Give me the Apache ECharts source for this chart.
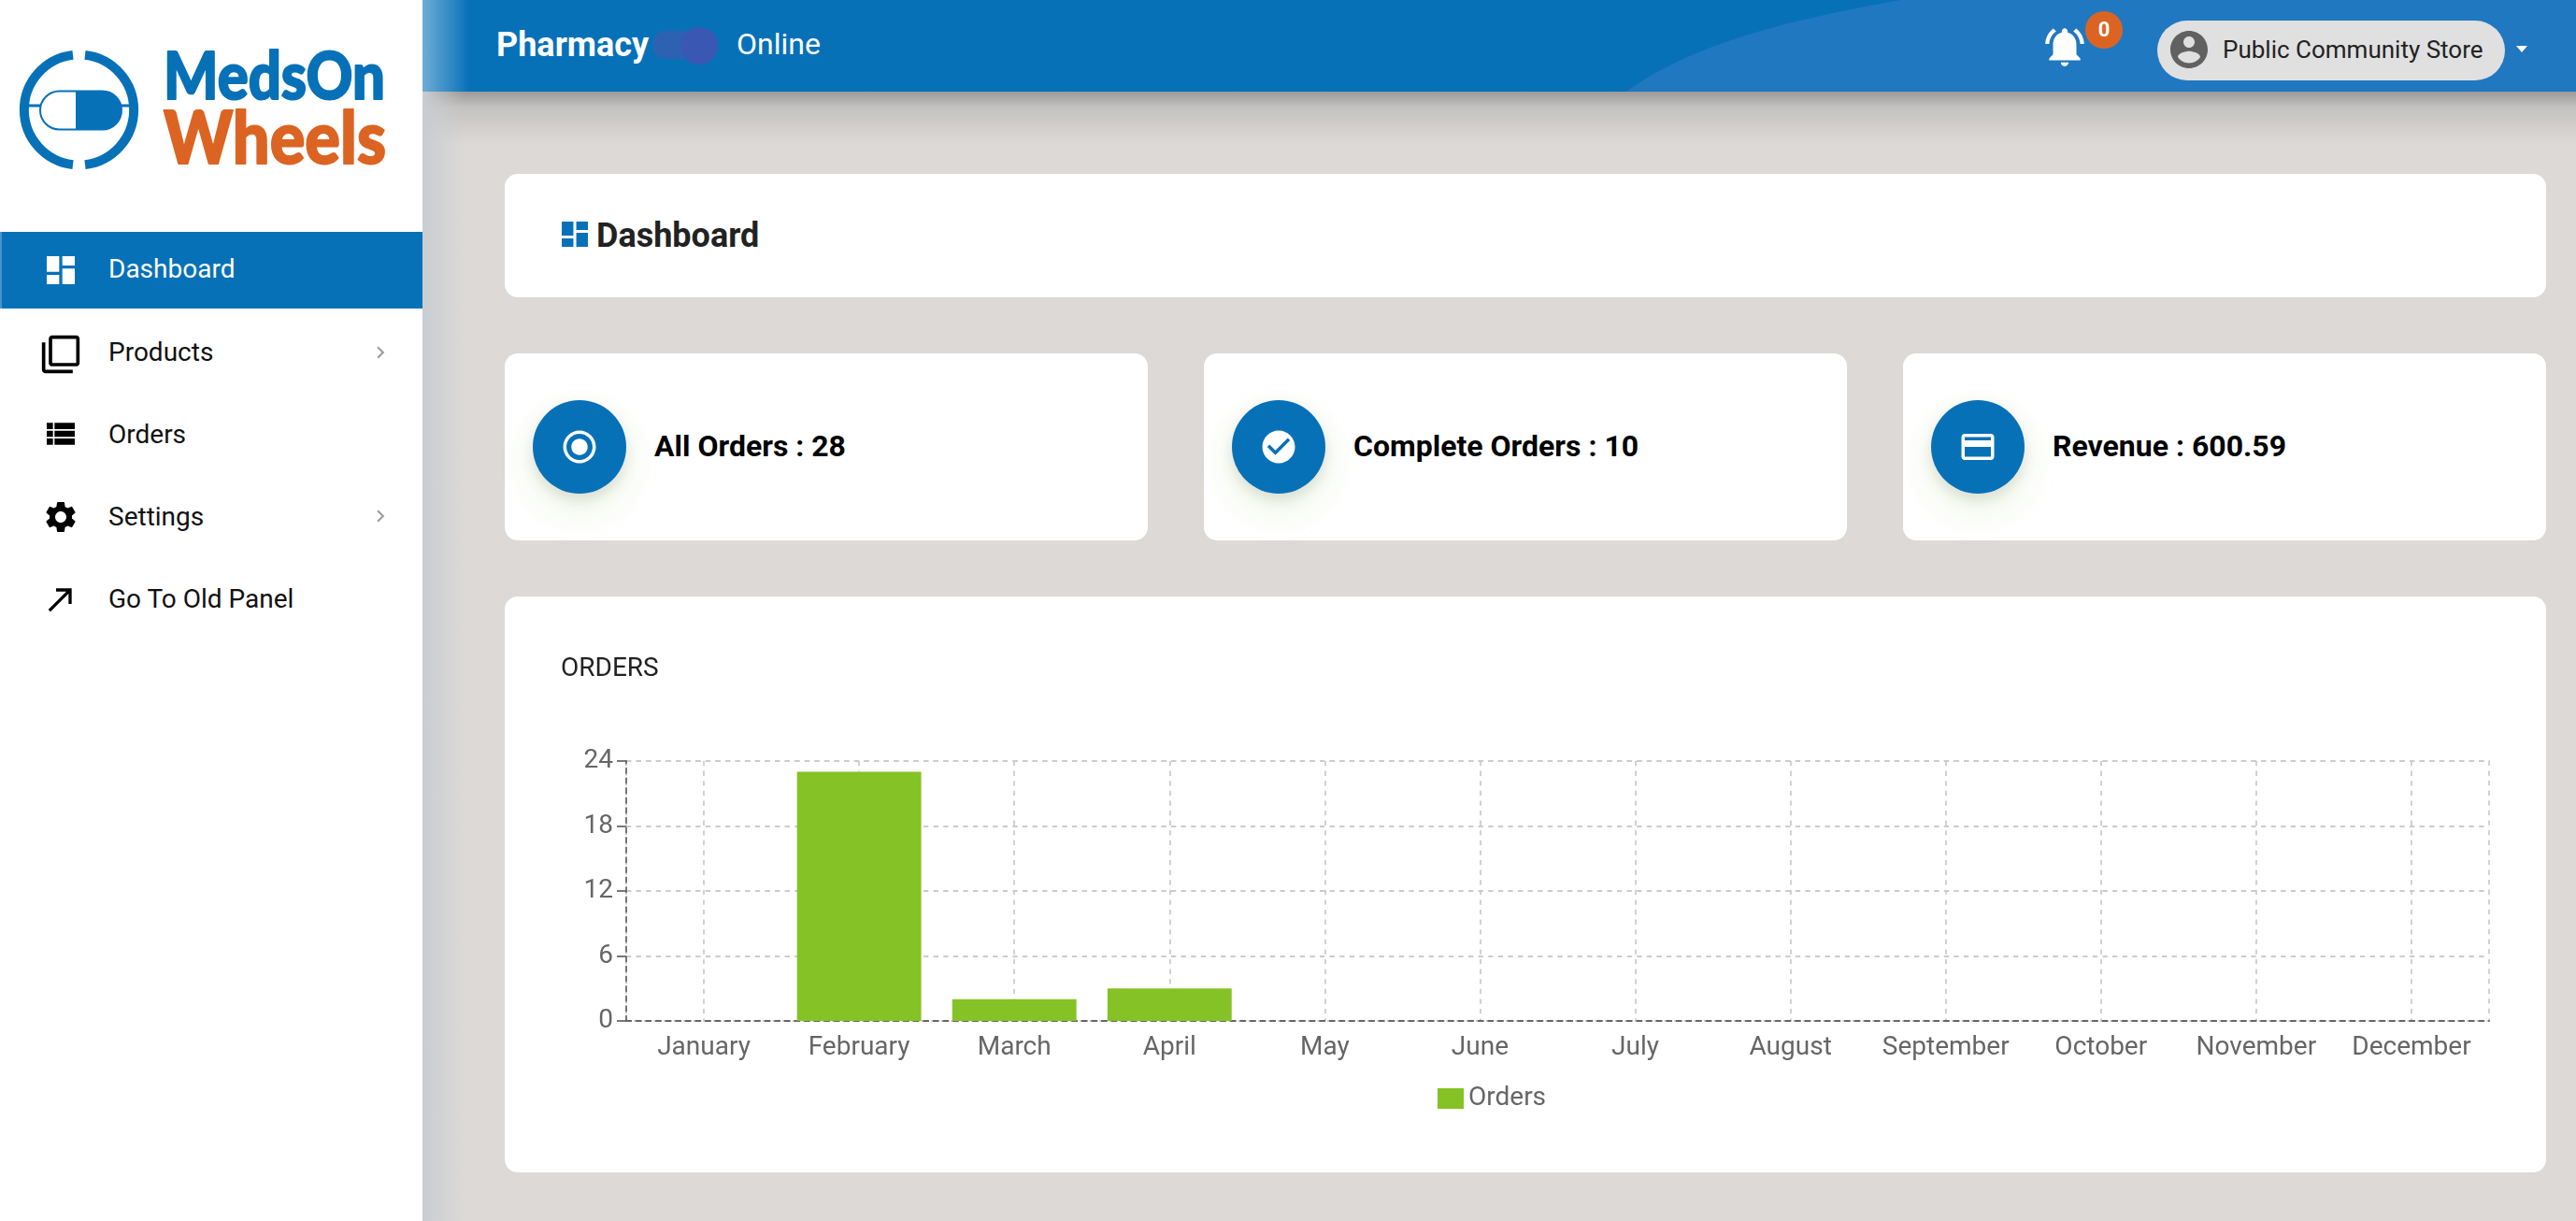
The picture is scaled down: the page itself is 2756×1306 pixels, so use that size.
<!DOCTYPE html>
<html>
<head>
    <meta charset="UTF-8">
    <script type="text/javascript" src="https://cdn.jsdelivr.net/npm/echarts@6/dist/echarts.min.js"></script>
    <style type="text/css">
        *{
            margin: 0;
            padding: 0;
            box-sizing: border-box;
        }
        body{
            width: 2756px;
            height: 1306px;
            position: relative;
            overflow: hidden;
            background: #dcd9d6;
            font-family: Roboto, sans-serif;
        }
        .abs{
            position: absolute;
        }
        .txt{
            position: absolute;
            white-space: nowrap;
            line-height: 1;
        }
        .card{
            position: absolute;
            background: #fff;
            border-radius: 14px;
        }
        .side{
            position: absolute;
            left: 0;
            top: 0;
            width: 452px;
            height: 1306px;
            background: #fff;
            z-index: 3;
        }
        .item{
            font-size: 28px;
            color: #111;
            left: 116px;
        }
        .round{
            position: absolute;
            top: 428px;
            width: 100px;
            height: 100px;
            border-radius: 50%;
            background: #0771b8;
            box-shadow: 0 6px 14px rgba(120,120,120,.2), 0 16px 38px rgba(130,190,60,.16);
        }
        .stat{
            font-size: 32px;
            font-weight: 700;
            color: #000;
            top: 461px;
        }
        #one{
            position: absolute;
            left: 540px;
            top: 638px;
            width: 2184px;
            height: 616px;
        }
    </style>
</head>
<body>

<div class="abs" style="left:452px;top:98px;width:2304px;height:56px;background:linear-gradient(#9c9a98,#c4c2c0 30%,#dcd9d6)"></div>
<div class="abs" style="left:452px;top:98px;width:44px;height:1208px;background:linear-gradient(90deg,#c9cdd2,rgba(220,217,214,0))"></div>

<svg class="abs" style="left:452px;top:0" width="2304" height="98">
    <defs>
        <linearGradient id="fade" x1="0" x2="1" y1="0" y2="0">
            <stop offset="0" stop-color="#fff" stop-opacity=".42"/>
            <stop offset="1" stop-color="#fff" stop-opacity="0"/>
        </linearGradient>
    </defs>
    <rect width="2304" height="98" fill="#0771b8"/>
    <path d="M1288 98 C1360 45 1470 20 1581 0 L2304 0 L2304 98 Z" fill="#2078c0"/>
    <rect width="50" height="98" fill="url(#fade)"/>
    <rect x="246" y="33" width="70" height="30" rx="15" fill="#2d62b3"/>
    <circle cx="296" cy="49" r="20" fill="#3a57b3"/>
</svg>
<div class="txt" style="left:531px;top:30px;font-size:36px;font-weight:700;color:#fff">Pharmacy</div>
<div class="txt" style="left:788px;top:31px;font-size:32px;color:#fff">Online</div>

<svg class="abs" style="left:2184px;top:25px" width="50" height="50" viewBox="0 0 24 24" fill="#fff">
    <path d="M7.58 4.08L6.15 2.65C3.75 4.48 2.17 7.3 2.03 10.5h2c.15-2.65 1.51-4.97 3.55-6.42zm12.39 6.42h2c-.15-3.2-1.73-6.02-4.12-7.85l-1.42 1.43c2.02 1.45 3.39 3.77 3.54 6.42zM18 11c0-3.07-1.64-5.64-4.5-6.32V4c0-.83-.67-1.5-1.5-1.5s-1.5.67-1.5 1.5v.68C7.63 5.36 6 7.92 6 11v5l-2 2v1h16v-1l-2-2v-5zm-6 11c.14 0 .27-.01.4-.04.65-.14 1.18-.58 1.44-1.18.1-.24.15-.5.15-.78h-4c.01 1.1.9 2 2.01 2z"/>
</svg>
<div class="abs" style="left:2231px;top:12px;width:40px;height:40px;border-radius:50%;background:#dc6423"></div>
<div class="txt" style="left:2231px;top:21px;width:40px;text-align:center;font-size:22px;font-weight:700;color:#fff">0</div>

<div class="abs" style="left:2308px;top:22px;width:372px;height:64px;border-radius:32px;background:#e0e0e0"></div>
<svg class="abs" style="left:2318px;top:29px" width="48" height="48" viewBox="0 0 24 24" fill="#616161">
    <path d="M12 2C6.48 2 2 6.48 2 12s4.48 10 10 10 10-4.48 10-10S17.52 2 12 2zm0 3c1.66 0 3 1.34 3 3s-1.34 3-3 3-3-1.34-3-3 1.34-3 3-3zm0 14.2c-2.5 0-4.71-1.28-6-3.22.03-1.99 4-3.08 6-3.08 1.99 0 5.97 1.09 6 3.08-1.29 1.94-3.5 3.22-6 3.22z"/>
</svg>
<div class="txt" style="left:2378px;top:40px;font-size:26px;color:#222">Public Community Store</div>
<svg class="abs" style="left:2692px;top:49px" width="12" height="8"><path d="M0 0H12L6 7Z" fill="#fff"/></svg>

<div class="side">
    <svg class="abs" style="left:0;top:0" width="452" height="230">
        <g fill="none" stroke="#0771b8" stroke-width="10">
            <path d="M78 58.9 A59 59 0 0 0 78 176.1"/>
            <path d="M91 58.9 A59 59 0 0 1 91 176.1"/>
        </g>
        <path d="M30 113 H44 M125 113 H140" stroke="#0771b8" stroke-width="3"/>
        <rect x="43" y="97.5" width="87" height="41" rx="20.5" fill="none" stroke="#0771b8" stroke-width="2"/>
        <path d="M81 97 H109 A21 21 0 0 1 109 139 H81 Z" fill="#0771b8"/>
        <text x="175" y="106" textLength="237" lengthAdjust="spacingAndGlyphs" font-family="Lato" font-weight="900" font-size="70" fill="#0771b8" stroke="#0771b8" stroke-width="2" stroke-linejoin="round">MedsOn</text>
        <text x="175" y="175" textLength="238" lengthAdjust="spacingAndGlyphs" font-family="Lato" font-weight="900" font-size="78" fill="#dc6423" stroke="#dc6423" stroke-width="2" stroke-linejoin="round">Wheels</text>
    </svg>

    <div class="abs" style="left:0;top:248px;width:452px;height:82px;background:#0771b8;border-left:2px solid #4a92c8"></div>
    <svg class="abs" style="left:45px;top:269px" width="40" height="40" viewBox="0 0 24 24" fill="#fff"><path d="M3 13h8V3H3v10zm0 8h8v-6H3v6zm10 0h8V11h-8v10zm0-18v6h8V3h-8z"/></svg>
    <div class="txt item" style="top:274px;color:#fff">Dashboard</div>

    <svg class="abs" style="left:43px;top:357px" width="44" height="44" viewBox="0 0 24 24" fill="#000"><path d="M3 5H1v16c0 1.1.9 2 2 2h16v-2H3V5zm18-4H7c-1.1 0-2 .9-2 2v14c0 1.1.9 2 2 2h14c1.1 0 2-.9 2-2V3c0-1.1-.9-2-2-2zm0 16H7V3h14v14z"/></svg>
    <div class="txt item" style="top:363px">Products</div>
    <svg class="abs" style="left:394px;top:364px" width="26" height="26" viewBox="0 0 24 24" fill="#9e9e9e"><path d="M10 6L8.59 7.41 13.17 12l-4.58 4.59L10 18l6-6z"/></svg>

    <svg class="abs" style="left:45px;top:444px" width="40" height="40" viewBox="0 0 24 24" fill="#000"><path d="M3 14h4v-4H3v4zm0 5h4v-4H3v4zM3 9h4V5H3v4zm5 5h13v-4H8v4zm0 5h13v-4H8v4zM8 5v4h13V5H8z"/></svg>
    <div class="txt item" style="top:451px">Orders</div>

    <svg class="abs" style="left:45px;top:533px" width="40" height="40" viewBox="0 0 24 24" fill="#000"><path d="M19.14 12.94c.04-.3.06-.61.06-.94 0-.32-.02-.64-.07-.94l2.03-1.58c.18-.14.23-.41.12-.61l-1.92-3.32c-.12-.22-.37-.29-.59-.22l-2.39.96c-.5-.38-1.03-.7-1.62-.94l-.36-2.54c-.04-.24-.24-.41-.48-.41h-3.84c-.24 0-.43.17-.47.41l-.36 2.54c-.59.24-1.13.57-1.62.94l-2.39-.96c-.22-.08-.47 0-.59.22L2.74 8.87c-.12.21-.08.47.12.61l2.03 1.58c-.05.3-.09.63-.09.94s.02.64.07.94l-2.03 1.58c-.18.14-.23.41-.12.61l1.92 3.32c.12.22.37.29.59.22l2.39-.96c.5.38 1.03.7 1.62.94l.36 2.54c.05.24.24.41.48.41h3.84c.24 0 .44-.17.47-.41l.36-2.54c.59-.24 1.13-.56 1.62-.94l2.39.96c.22.08.47 0 .59-.22l1.92-3.32c.12-.22.07-.47-.12-.61l-2.01-1.58zM12 15.6c-1.98 0-3.6-1.62-3.6-3.6s1.62-3.6 3.6-3.6 3.6 1.62 3.6 3.6-1.62 3.6-3.6 3.6z"/></svg>
    <div class="txt item" style="top:539px">Settings</div>
    <svg class="abs" style="left:394px;top:539px" width="26" height="26" viewBox="0 0 24 24" fill="#9e9e9e"><path d="M10 6L8.59 7.41 13.17 12l-4.58 4.59L10 18l6-6z"/></svg>

    <svg class="abs" style="left:45px;top:621px" width="40" height="40" viewBox="0 0 24 24" fill="#000"><path d="M9 5v2h6.59L4 18.59 5.41 20 17 8.41V15h2V5z"/></svg>
    <div class="txt item" style="top:627px">Go To Old Panel</div>
</div>

<div class="card" style="left:540px;top:186px;width:2184px;height:132px">
    <svg class="abs" style="left:61px;top:51px" width="28" height="27" viewBox="3 3 18 18" preserveAspectRatio="none" fill="#0771b8"><path d="M3 13h8V3H3v10zm0 8h8v-6H3v6zm10 0h8V11h-8v10zm0-18v6h8V3h-8z"/></svg>
    <div class="txt" style="left:98px;top:48px;font-size:36px;font-weight:700;color:#222">Dashboard</div>
</div>

<div class="card" style="left:540px;top:378px;width:688px;height:200px"></div>
<div class="card" style="left:1288px;top:378px;width:688px;height:200px"></div>
<div class="card" style="left:2036px;top:378px;width:688px;height:200px"></div>

<div class="round" style="left:570px">
    <svg class="abs" style="left:29px;top:29px" width="42" height="42" viewBox="0 0 24 24" fill="#fff"><path d="M12 7c-2.76 0-5 2.24-5 5s2.24 5 5 5 5-2.24 5-5-2.24-5-5-5zm0-5C6.48 2 2 6.48 2 12s4.48 10 10 10 10-4.48 10-10S17.52 2 12 2zm0 18c-4.42 0-8-3.58-8-8s3.58-8 8-8 8 3.58 8 8-3.58 8-8 8z"/></svg>
</div>
<div class="txt stat" style="left:700px">All Orders : 28</div>

<div class="round" style="left:1318px">
    <svg class="abs" style="left:29px;top:29px" width="42" height="42" viewBox="0 0 24 24" fill="#fff"><path d="M12 2C6.48 2 2 6.48 2 12s4.48 10 10 10 10-4.48 10-10S17.52 2 12 2zm-2 15l-5-5 1.41-1.41L10 14.17l7.59-7.59L19 8l-9 9z"/></svg>
</div>
<div class="txt stat" style="left:1448px">Complete Orders : 10</div>

<div class="round" style="left:2066px">
    <svg class="abs" style="left:29px;top:29px" width="42" height="42" viewBox="0 0 24 24" fill="#fff"><path d="M20 4H4c-1.11 0-1.99.89-1.99 2L2 18c0 1.11.89 2 2 2h16c1.11 0 2-.89 2-2V6c0-1.11-.89-2-2-2zm0 14H4v-6h16v6zm0-10H4V6h16v2z"/></svg>
</div>
<div class="txt stat" style="left:2196px">Revenue : 600.59</div>

<div class="card" style="left:540px;top:638px;width:2184px;height:616px"></div>
<div id="one"></div>

<script type="text/javascript">
    var months = ['January', 'February', 'March', 'April', 'May', 'June', 'July', 'August', 'September', 'October', 'November', 'December'];
    var orders = [0, 23, 2, 3, 0, 0, 0, 0, 0, 0, 0, 0];

    var myChart = echarts.init(document.getElementById('one'));
    var option = {
        animation: false,
        title: {
            text: 'ORDERS',
            left: 60,
            top: 64,
            padding: 0,
            textStyle: {
                fontFamily: 'Roboto',
                fontSize: 28,
                fontWeight: 'normal',
                color: '#222'
            }
        },
        legend: {
            data: ['Orders'],
            top: 523,
            left: 998,
            padding: 0,
            icon: 'rect',
            itemWidth: 28,
            itemHeight: 22,
            itemGap: 8,
            textStyle: {
                fontFamily: 'Roboto',
                fontSize: 28,
                color: '#666'
            }
        },
        grid: {
            left: 130,
            right: 61,
            top: 176,
            bottom: 162,
            show: true,
            borderColor: '#ccc',
            borderWidth: 1.76,
            borderType: [5.3, 5.3]
        },
        xAxis: {
            type: 'category',
            data: months,
            axisLine: {
                lineStyle: { color: '#666', width: 1.76, type: [5.3, 5.3] }
            },
            axisTick: {
                alignWithLabel: true,
                length: 10,
                lineStyle: { color: '#666', width: 1.76 }
            },
            axisLabel: {
                interval: 0,
                margin: 15,
                fontFamily: 'Roboto',
                fontSize: 28,
                color: '#666'
            },
            splitLine: {
                show: true,
                alignWithLabel: true,
                interval: 0,
                lineStyle: { color: '#ccc', width: 1.76, type: [5.3, 5.3] }
            }
        },
        yAxis: {
            type: 'value',
            min: 0,
            max: 24,
            interval: 6,
            axisLine: {
                show: true,
                lineStyle: { color: '#666', width: 1.76, type: [5.3, 5.3] }
            },
            axisTick: {
                show: true,
                length: 10,
                lineStyle: { color: '#666', width: 1.76 }
            },
            axisLabel: {
                margin: 14,
                padding: [14, 0, 0, 0],
                fontFamily: 'Roboto',
                fontSize: 28,
                color: '#666'
            },
            splitLine: {
                lineStyle: { color: '#ccc', width: 1.76, type: [5.3, 5.3] }
            }
        },
        series: [
            {
                name: 'Orders',
                type: 'bar',
                barCategoryGap: '20%',
                data: orders,
                itemStyle: { color: '#85c226' }
            }
        ]
    };
    myChart.setOption(option);
</script>
</body>
</html>
